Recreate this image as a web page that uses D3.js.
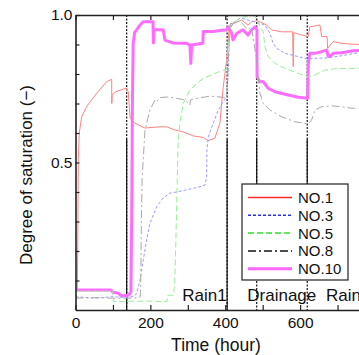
<!DOCTYPE html>
<html>
<head>
<meta charset="utf-8">
<script src="https://cdn.jsdelivr.net/npm/d3@7"></script>
<style>
  body { margin: 0; background: #fff; }
  svg { display: block; font-family: "Liberation Sans", Arial, sans-serif; }
</style>
</head>
<body>
<div id="plot"></div>
<script>
// series: [hour, degree of saturation]
var no1 = [[5,0.07],[6.5,0.3],[7.5,0.51],[10,0.6],[16.6,0.655],[29.9,0.69],[56.6,0.735],[83.3,0.774],[96.7,0.782],[97,0.70],[98,0.73],
  [108,0.74],[118.8,0.745],[134.8,0.752],[138,0.745],[141,0.74],[143,0.70],[146,0.65],[158.9,0.633],[185,0.617],[225.6,0.621],[243.5,0.621],
  [265.7,0.61],[287.8,0.604],[314.5,0.59],[341.3,0.585],[354.6,0.574],[372.5,0.583],[385.8,0.634],[390.4,0.70],[394.7,0.757],[403.7,0.847],
  [410,0.95],[420,0.97],[443.8,0.983],[460.6,0.966],[470.5,0.977],[484,0.98],[492.7,0.977],[510.5,0.966],[523.9,0.949],[550.6,0.943],
  [580,0.943],[581.6,0.825],[583,0.94],[604,0.932],[621.6,0.927],[626,0.96],[652.9,0.966],[657.4,0.927],[672,0.927],[673.4,0.887],
  [688.4,0.91],[710.8,0.904],[741.8,0.901],[760,0.90]];
var no3 = [[0,0.045],[50,0.04],[100,0.045],[140,0.042],[158,0.048],[163.4,0.057],[172.2,0.10],[181,0.17],[190,0.237],[198.9,0.294],
  [216.8,0.35],[234.4,0.38],[252.3,0.396],[270,0.40],[305.7,0.41],[332.4,0.418],[345.8,0.424],[350.3,0.452],[351,0.542],[354.6,0.587],
  [368,0.633],[381.3,0.678],[394.7,0.706],[403.7,0.723],[408,0.80],[412,0.95],[420,0.97],[440,0.99],[470,0.98],[484,0.975],[506,0.966],
  [519.4,0.938],[528,0.904],[537.2,0.887],[559.4,0.87],[595,0.859],[621.6,0.85],[639.5,0.853],[675,0.855],[710.8,0.862],[746.3,0.87],[760,0.872]];
var no5 = [[0,0.064],[60,0.064],[100,0.064],[101,0.028],[140,0.03],[200,0.03],[244,0.028],[246,0.05],[262,0.05],[265,0.1],[268,0.227],
  [271,0.396],[274,0.566],[279,0.634],[287.8,0.70],[305.7,0.746],[323.6,0.768],[341.3,0.785],[368,0.80],[394.7,0.813],[403.7,0.816],
  [408,0.90],[415,0.97],[440,0.99],[470,1.0],[484,0.99],[492.7,0.96],[501.5,0.944],[506,0.893],[514.8,0.859],[532.7,0.836],[559.4,0.819],
  [595,0.802],[621.6,0.791],[639.5,0.797],[666,0.813],[701.7,0.819],[746.3,0.819],[760,0.82]];
var no8 = [[0,0.04],[50,0.042],[100,0.04],[140,0.04],[172,0.042],[174,0.06],[176,0.3],[178,0.45],[181,0.51],[185.6,0.61],[198.9,0.678],
  [212.3,0.712],[216.8,0.706],[225.6,0.72],[243.5,0.722],[261,0.72],[292.3,0.712],[305.7,0.695],[307,0.712],[314.5,0.715],[359.1,0.725],
  [403.7,0.72],[408,0.85],[413,0.97],[440,0.98],[460,0.95],[470,0.96],[484,0.847],[488,0.79],[492.7,0.735],[501.5,0.70],[519.4,0.678],
  [550.6,0.655],[586,0.638],[621.6,0.631],[630.7,0.644],[639.5,0.678],[657.4,0.689],[684,0.692],[710.8,0.689],[737.5,0.684],[760,0.684]];
var no10 = [[0,0.068],[60,0.068],[95,0.068],[100,0.06],[115,0.057],[120,0.05],[126.8,0.048],[141,0.05],[148,0.06],[150,0.3],[152,0.7],
  [154,0.904],[158,0.94],[163.4,0.95],[172.2,0.966],[181,0.977],[207,0.977],[208,0.905],[210,0.95],[234,0.95],[239,0.915],[250,0.91],
  [261,0.905],[279,0.904],[297,0.904],[305.7,0.898],[308,0.836],[310.3,0.898],[340,0.904],[341.3,0.944],[368,0.944],[394.7,0.949],
  [403.7,0.949],[408,0.96],[417,0.939],[420.6,0.915],[431,0.938],[447.3,0.95],[460.6,0.932],[470.5,0.95],[479.4,0.96],[484.6,0.95],
  [485,0.79],[492.7,0.774],[501.5,0.774],[514.8,0.751],[532.7,0.74],[568.2,0.729],[595,0.721],[620,0.718],[622,0.84],[626,0.87],
  [639.5,0.87],[657.4,0.876],[670.8,0.881],[675,0.86],[679.6,0.859],[688.4,0.87],[710.8,0.872],[741.8,0.879],[760,0.88]];

var seriesNames = ["NO.1", "NO.3", "NO.5", "NO.8", "NO.10"];
var seriesData = [no1, no3, no5, no8, no10];

// event lines (hours) and phase labels
var eventHours = [136.7, 405, 484, 619];
var phaseLabels = ["Rain1", "Drainage", "Rain2"];
var phaseHours = [404, 551, 669];

var xTicks = [0, 100, 200, 300, 400, 500, 600, 700, 800];
var xLabelled = [0, 200, 400, 600];
var yTicks = [0.1, 0.2, 0.3, 0.4, 0.5, 0.6, 0.7, 0.8, 0.9, 1.0];

/*********************** Plot Below *********************/
var W = 359, H = 355;
var plot = {left: 75.5, top: 15, right: 375, bottom: 310};

var xScale = d3.scaleLinear().domain([0, 800]).range([plot.left, plot.right]);
var yScale = d3.scaleLinear().domain([0, 1]).range([plot.bottom, plot.top]);

var svg = d3.select("#plot").append("svg")
  .attr("width", W)
  .attr("height", H);

svg.append("defs").append("clipPath")
  .attr("id", "clip")
  .append("rect")
  .attr("x", plot.left).attr("y", plot.top)
  .attr("width", plot.right - plot.left)
  .attr("height", plot.bottom - plot.top);

// line styles: plot colour, legend colour, width, dash
var styles = {
  "NO.1":  {c: "#ff8282", lc: "#ff2a2a", w: 1, lw: 1.5, dash: null},
  "NO.3":  {c: "#9a9aff", lc: "#2a2aff", w: 1, lw: 1.5, dash: "3,2"},
  "NO.5":  {c: "#98ec98", lc: "#33dd33", w: 1, lw: 1.5, dash: "6,3"},
  "NO.8":  {c: "#a8a8a8", lc: "#111111", w: 1, lw: 1.5, dash: "8,3,2,3"},
  "NO.10": {c: "#ff6cff", lc: "#ff66ff", w: 3, lw: 3, dash: null}
};

// event lines: dotted full height, solid in the lower part
var evG = svg.append("g").attr("clip-path", "url(#clip)");
eventHours.forEach(function(h, i) {
  evG.append("line")
    .attr("x1", xScale(h)).attr("x2", xScale(h))
    .attr("y1", yScale(1)).attr("y2", yScale(0))
    .attr("stroke", "#111").attr("stroke-width", 1.2)
    .attr("stroke-dasharray", "2,1.5");
  evG.append("line")
    .attr("x1", xScale(h)).attr("x2", xScale(h))
    .attr("y1", yScale(0.58)).attr("y2", yScale(i < 2 ? 0 : 0.11))
    .attr("stroke", "#111").attr("stroke-width", 1.2);
});

var plotLine = d3.line()
  .x(function(d) { return xScale(d[0]); })
  .y(function(d) { return yScale(d[1]); });

var drawOrder = [4, 0, 1, 2, 3];
var linesG = svg.append("g").attr("clip-path", "url(#clip)");
drawOrder.forEach(function(i) {
  var s = styles[seriesNames[i]];
  linesG.append("path")
    .datum(seriesData[i])
    .attr("d", plotLine)
    .attr("fill", "none")
    .attr("stroke", s.c)
    .attr("stroke-width", s.w)
    .attr("stroke-linejoin", "round")
    .attr("stroke-dasharray", s.dash);
});

// axes
var xAxis = d3.axisBottom(xScale).tickValues(xTicks)
  .tickSizeInner(-5).tickSizeOuter(0).tickPadding(5)
  .tickFormat(function(d) { return xLabelled.indexOf(d) >= 0 ? d : ""; });
var xTop = d3.axisTop(xScale).tickValues(xTicks)
  .tickSizeInner(-5).tickSizeOuter(0).tickFormat("");
var yAxis = d3.axisLeft(yScale).tickValues(yTicks)
  .tickSizeInner(-4).tickSizeOuter(0).tickPadding(3)
  .tickFormat(function(d) { return (Math.round(d * 10) % 5 === 0) ? d3.format(".1f")(d) : ""; });

var gx = svg.append("g")
  .attr("transform", "translate(0," + plot.bottom + ")")
  .call(xAxis);
var gt = svg.append("g")
  .attr("transform", "translate(0," + plot.top + ")")
  .call(xTop);
var gy = svg.append("g")
  .attr("transform", "translate(" + plot.left + ",0)")
  .call(yAxis);

[gx, gt, gy].forEach(function(g) {
  g.select(".domain").attr("stroke", "#222").attr("stroke-width", 1.6);
  g.selectAll(".tick line").attr("stroke", "#222").attr("stroke-width", 1.2);
  g.selectAll(".tick text").attr("fill", "#111")
    .style("font-size", "15.5px")
    .style("font-family", "Liberation Sans, Arial, sans-serif");
});
gx.selectAll(".tick text").attr("dy", "0.85em");

// phase labels
var anchors = ["end", "middle", "start"];
phaseLabels.forEach(function(t, i) {
  svg.append("text")
    .attr("x", xScale(phaseHours[i]))
    .attr("y", 301)
    .attr("text-anchor", anchors[i])
    .attr("fill", "#111")
    .style("font-size", "17px")
    .text(t);
});

// axis titles
svg.append("text")
  .attr("transform", "translate(32,175) rotate(-90)")
  .attr("text-anchor", "middle")
  .attr("fill", "#111")
  .style("font-size", "17px")
  .text("Degree of saturation (\u2212)");
svg.append("text")
  .attr("x", 216).attr("y", 351)
  .attr("text-anchor", "middle")
  .attr("fill", "#111")
  .style("font-size", "17.5px")
  .text("Time (hour)");

/****************** Legend ********************************/
var leg = svg.append("g").attr("transform", "translate(242,184)");
leg.append("rect")
  .attr("width", 106).attr("height", 96)
  .attr("fill", "#fff").attr("stroke", "#222").attr("stroke-width", 1.2);
seriesNames.forEach(function(name, i) {
  var s = styles[name];
  var yy = 13.5 + i * 17.8;
  leg.append("line")
    .attr("x1", 6).attr("x2", 50)
    .attr("y1", yy).attr("y2", yy)
    .attr("stroke", s.lc).attr("stroke-width", s.lw)
    .attr("stroke-dasharray", s.dash);
  leg.append("text")
    .attr("x", 56).attr("y", yy + 5.5)
    .attr("fill", "#111")
    .style("font-size", "15px")
    .text(name);
});
</script>
</body>
</html>
